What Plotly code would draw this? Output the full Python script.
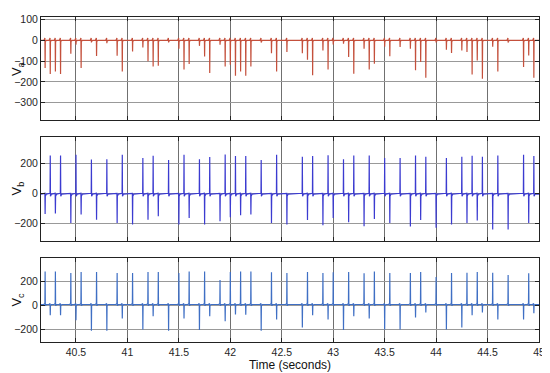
import plotly.graph_objects as go

# ---- data ----
spike_times = [40.20, 40.25, 40.30, 40.35, 40.45, 40.50, 40.55, 40.65, 40.70, 40.80,
               40.90, 40.95, 41.05, 41.15, 41.20, 41.25, 41.30, 41.40, 41.50, 41.55,
               41.60, 41.70, 41.75, 41.80, 41.90, 41.95, 42.00, 42.05, 42.10, 42.15,
               42.20, 42.30, 42.40, 42.45,
               42.55, 42.70, 42.75, 42.80, 42.90, 42.95, 43.00, 43.10, 43.15, 43.20,
               43.30, 43.35, 43.40, 43.50, 43.55, 43.65, 43.75, 43.80, 43.85, 43.90,
               44.00, 44.10, 44.15, 44.25, 44.30, 44.35, 44.40, 44.45, 44.55, 44.60,
               44.70, 44.85, 44.90, 44.95]

va_peaks = [-133, -162, -150, -162, -64, -20, -133, -10, -75, -13,
            -74, -150, -53, -34, -100, -125, -122, -10, -40, -140,
            -114, -26, -77, -157, -21, -125, -117, -170, -150, -170,
            -125, -10, -62, -150,
            -55, -62, -93, -168, -48, -140, -20, -16, -80, -160,
            -40, -140, -112, -30, -76, -32, -40, -143, -104, -180,
            -10, -45, -61, -48, -56, -164, -96, -184, -30, -150,
            -10, -128, -72, -180]

vb_peaks = [-137, 256, -133, 256, -197, 260, -141, 228, -175, 230,
            -197, 260, -208, 239, -175, 254, -152, 225, -208, 260,
            -163, 230, -208, 245, -186, 263, -159, 252, -146, 252,
            -141, 225, -197, 260,
            -208, 247, -177, 252, -212, 258, -163, 230, -192, 256,
            -219, 256, -170, 239, -197, 239, -221, 256, -177, 247,
            -230, 239, -208, 247, -197, 254, -181, 247, -241, 256,
            -241, 260, -197, 252]

vc_peaks = [285, -83, 285, -83, 273, -124, 282, -212, 282, -212,
            273, -110, 273, -202, 282, -91, 282, -212, 273, -110,
            285, -207, 285, -91, 213, -132, 282, -75, 285, -77,
            285, -212, 279, -118,
            273, -185, 282, -83, 273, -118, 278, -207, 282, -91,
            270, -110, 285, -202, 273, -202, 273, -102, 282, -60,
            240, -202, 273, -185, 275, -83, 282, -60, 275, -118,
            255, -118, 270, -65]

# small ripple levels around each switching spike (base, bump before, notch after)
va_ripple = (0, 12, 4)
vb_ripple = (-3, 5, 15)
vc_ripple = (8, 8, 10)

x_range = [40.16, 45.0]
x_ticks = [40.5, 41, 41.5, 42, 42.5, 43, 43.5, 44, 44.5, 45]
x_tick_labels = ["40.5", "41", "41.5", "42", "42.5", "43", "43.5", "44", "44.5", "45"]
va_ticks = [-300, -200, -100, 0, 100]
vbc_ticks = [-200, 0, 200]


def waveform(times, peaks, ripple):
    base, bump, notch = ripple
    xs = [x_range[0]]
    ys = [base]
    for t, p in zip(times, peaks):
        xs += [t - 0.012, t - 0.002, t, t + 0.002, t + 0.012]
        ys += [base, base + bump, p, base - notch, base]
    xs.append(x_range[1])
    ys.append(base)
    return xs, ys


fig = go.Figure()
for (peaks, rip, color, xa, ya) in [
    (va_peaks, va_ripple, "#c4503c", "x", "y"),
    (vb_peaks, vb_ripple, "#3b3bd0", "x2", "y2"),
    (vc_peaks, vc_ripple, "#3f6fc4", "x3", "y3"),
]:
    xs, ys = waveform(spike_times, peaks, rip)
    fig.add_trace(go.Scatter(x=xs, y=ys, mode="lines",
                             line=dict(color=color, width=1.2),
                             xaxis=xa, yaxis=ya, showlegend=False,
                             hoverinfo="skip"))

tick_font = dict(family="Liberation Sans, Arial, sans-serif", size=10.5, color="#262626")

common_x = dict(range=x_range, tickvals=x_ticks, ticktext=x_tick_labels,
                showgrid=True, gridcolor="#707070", gridwidth=1,
                showline=True, linecolor="#222", linewidth=1, mirror="ticks",
                ticks="inside", ticklen=4, tickcolor="#222",
                zeroline=False, tickfont=tick_font)
common_y = dict(showgrid=True, gridcolor="#999999", gridwidth=1,
                showline=True, linecolor="#222", linewidth=1, mirror="ticks",
                ticks="inside", ticklen=4, tickcolor="#222",
                zeroline=False, tickfont=tick_font)

d1 = [0.6839, 1.0]
d2 = [0.3122, 0.6313]
d3 = [0.0, 0.2593]

# the page body has an 8px margin, so the figure is 8px smaller and offset
fig.update_layout(
    width=542, height=365,
    margin=dict(l=33, r=8, t=5, b=31),
    paper_bgcolor="white", plot_bgcolor="white",
    xaxis=dict(common_x, anchor="y", showticklabels=False),
    xaxis2=dict(common_x, anchor="y2", matches="x", showticklabels=False),
    xaxis3=dict(common_x, anchor="y3", matches="x", showticklabels=True,
                title=dict(text="Time (seconds)", standoff=2,
                           font=dict(family="Liberation Sans, Arial, sans-serif",
                                     size=12, color="#111"))),
    yaxis=dict(common_y, domain=d1, anchor="x", range=[-382, 113], tickvals=va_ticks),
    yaxis2=dict(common_y, domain=d2, anchor="x2", range=[-315, 381], tickvals=vbc_ticks),
    yaxis3=dict(common_y, domain=d3, anchor="x3", range=[-307, 401], tickvals=vbc_ticks),
)

for label, dom in [("V<sub>a</sub>", d1), ("V<sub>b</sub>", d2), ("V<sub>c</sub>", d3)]:
    fig.add_annotation(text=label, xref="paper", yref="paper",
                       x=-33 / 501, y=(dom[0] + dom[1]) / 2, xanchor="left", yanchor="middle",
                       textangle=-90, showarrow=False, borderpad=0,
                       font=dict(family="Liberation Sans, Arial, sans-serif", size=13, color="#111"))

fig.write_html("out.html")
